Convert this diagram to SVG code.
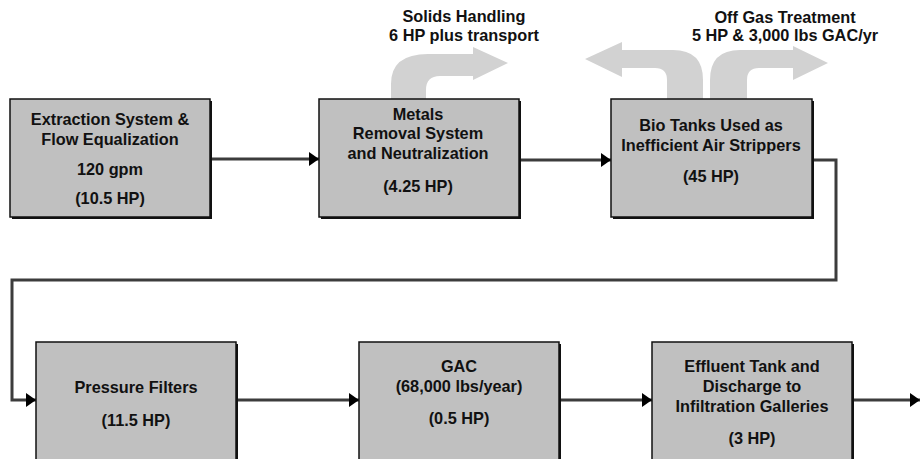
<svg xmlns="http://www.w3.org/2000/svg" width="921" height="459" viewBox="0 0 921 459">
<defs>
<style>
.box{fill:#c0c0c0;stroke:#111;stroke-width:1.5}
.shadow{fill:#111}
.t{font-family:"Liberation Sans",Arial,sans-serif;font-weight:bold;font-size:16.3px;fill:#111;text-anchor:middle}
.conn{fill:none;stroke:#3c3c3c;stroke-width:3;stroke-linejoin:miter}
.big{fill:#d2d2d2}
</style>
<marker id="ah" markerWidth="10" markerHeight="14" refX="10" refY="7" orient="auto" markerUnits="userSpaceOnUse">
<path d="M0,0 L10,7 L0,14 Z" fill="#000"/>
</marker>
</defs>
<rect width="921" height="459" fill="#fff"/>

<g id="side-arrows">
<path class="big" d="M391,99 L391,84 Q391,54 428,54 L473,54 L473,47 L508,63 L473,80 L473,76 L440,76 Q426,76 426,90 L426,99 Z"/>
<path class="big" d="M703,99 L703,80 Q703,50 673,50 L622,50 L622,42 L585,59 L622,77 L622,68 L655,68 Q667,68 667,80 L667,99 Z"/>
<path class="big" d="M710,99 L710,80 Q710,50 740,50 L793,50 L793,46 L828,63 L793,80 L793,68 L759,68 Q747,68 747,80 L747,99 Z"/>
</g>

<g id="connectors">
<path class="conn" d="M210,159 L319,159" marker-end="url(#ah)"/>
<path class="conn" d="M519,160 L611,160" marker-end="url(#ah)"/>
<path class="conn" d="M812,160 L836,160 L836,280 L12,280 L12,400 L36,400" marker-end="url(#ah)"/>
<path class="conn" d="M236,400 L359,400" marker-end="url(#ah)"/>
<path class="conn" d="M559,400 L652,400" marker-end="url(#ah)"/>
<path class="conn" d="M852,400 L920,400" marker-end="url(#ah)"/>
</g>

<g id="n1">
<rect class="shadow" x="12" y="101" width="200" height="118"/>
<rect class="box" x="10" y="99" width="200" height="118"/>
<text class="t" x="110" y="125">Extraction System &amp;</text>
<text class="t" x="110" y="145">Flow Equalization</text>
<text class="t" x="110" y="175">120 gpm</text>
<text class="t" x="110" y="204">(10.5 HP)</text>
</g>

<g id="n2">
<rect class="shadow" x="321" y="101" width="200" height="118"/>
<rect class="box" x="319" y="99" width="200" height="118"/>
<text class="t" x="418" y="120">Metals</text>
<text class="t" x="418" y="139">Removal System</text>
<text class="t" x="418" y="159">and Neutralization</text>
<text class="t" x="418" y="192">(4.25 HP)</text>
</g>

<g id="n3">
<rect class="shadow" x="613" y="101" width="201" height="118"/>
<rect class="box" x="611" y="99" width="201" height="118"/>
<text class="t" x="711" y="131">Bio Tanks Used as</text>
<text class="t" x="711" y="151">Inefficient Air Strippers</text>
<text class="t" x="711" y="182">(45 HP)</text>
</g>

<g id="n4">
<rect class="shadow" x="38" y="344" width="200" height="130"/>
<rect class="box" x="36" y="342" width="200" height="130"/>
<text class="t" x="136" y="393">Pressure Filters</text>
<text class="t" x="136" y="426">(11.5 HP)</text>
</g>

<g id="n5">
<rect class="shadow" x="361" y="344" width="200" height="130"/>
<rect class="box" x="359" y="342" width="200" height="130"/>
<text class="t" x="459" y="372">GAC</text>
<text class="t" x="459" y="392">(68,000 lbs/year)</text>
<text class="t" x="459" y="424">(0.5 HP)</text>
</g>

<g id="n6">
<rect class="shadow" x="654" y="344" width="200" height="130"/>
<rect class="box" x="652" y="342" width="200" height="130"/>
<text class="t" x="752" y="372">Effluent Tank and</text>
<text class="t" x="752" y="392">Discharge to</text>
<text class="t" x="752" y="412">Infiltration Galleries</text>
<text class="t" x="752" y="444">(3 HP)</text>
</g>

<g id="labels">
<text class="t" x="464" y="22">Solids Handling</text>
<text class="t" x="464" y="41">6 HP plus transport</text>
<text class="t" x="785" y="23">Off Gas Treatment</text>
<text class="t" x="785" y="41">5 HP &amp; 3,000 lbs GAC/yr</text>
</g>
</svg>
